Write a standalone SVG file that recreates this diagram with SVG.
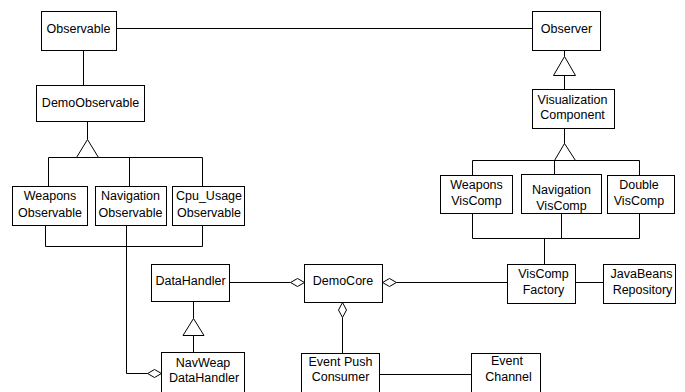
<svg xmlns="http://www.w3.org/2000/svg" width="685" height="392" viewBox="0 0 685 392">
<style>
.box{fill:#fff;stroke:#000;stroke-width:1}
.ln{fill:none;stroke:#000;stroke-width:1}
.tri{fill:#fff;stroke:#000;stroke-width:1}
.dia{fill:#fff;stroke:#000;stroke-width:1}
text{font-family:"Liberation Sans",Arial,sans-serif;font-size:12.5px;fill:#000;text-anchor:middle}
</style>
<rect width="685" height="392" fill="#fff"/>
<g id="connectors">
<path class="ln" d="M116.5 28.5H532.5"/>
<path class="ln" d="M83.5 50.5V85.5"/>
<path class="ln" d="M87.5 121.5V139.5"/>
<path class="ln" d="M48.5 186.5V157.5H202.5V186.5M129.5 157.5V186.5"/>
<polygon class="tri" points="87.5,139.5 76.5,157.5 98.5,157.5"/>
<path class="ln" d="M45.5 225.5V246.5H202.5V225.5"/>
<path class="ln" d="M126.5 225.5V373.5H147.5"/>
<polygon class="dia" points="147.5,373.5 154.5,369.5 161.5,373.5 154.5,377.5"/>
<path class="ln" d="M564.5 50.5V56.5M564.5 75.5V89.5"/>
<polygon class="tri" points="564.5,56.5 553.5,75.5 575.5,75.5"/>
<path class="ln" d="M564.5 128.5V143.5"/>
<path class="ln" d="M472.5 175.5V160.5H639.5V175.5M554.5 160.5V174.5"/>
<polygon class="tri" points="564.5,143.5 554.5,160.5 575.5,160.5"/>
<path class="ln" d="M472.5 213.5V238.5H639.5V213.5M561.5 213.5V238.5M544.5 238.5V264.5"/>
<path class="ln" d="M229.5 282.5H290.5"/>
<polygon class="dia" points="290.5,282.5 297.5,278.5 304.5,282.5 297.5,286.5"/>
<path class="ln" d="M396.5 282.5H507.5"/>
<polygon class="dia" points="382.5,282.5 389.5,278.5 396.5,282.5 389.5,286.5"/>
<path class="ln" d="M342.5 317.5V353.5"/>
<polygon class="dia" points="342.5,302.5 346.5,310 342.5,317.5 338.5,310"/>
<path class="ln" d="M193.5 301.5V318.5M193.5 335.5V352.5"/>
<polygon class="tri" points="193.5,318.5 183,335.5 204,335.5"/>
<path class="ln" d="M379.5 374.5H471.5"/>
<path class="ln" d="M575.5 282.5H603.5"/>
</g>
<g id="Observable"><rect class="box" x="41.5" y="11.5" width="75" height="39"/><text x="78.5" y="32.5">Observable</text></g>
<g id="Observer"><rect class="box" x="532.5" y="11.5" width="68" height="39"/><text x="566.5" y="32.5">Observer</text></g>
<g id="DemoObservable"><rect class="box" x="36.5" y="85.5" width="108" height="36"/><text x="90.5" y="107">DemoObservable</text></g>
<g id="VisualizationComponent"><rect class="box" x="532.5" y="89.5" width="82" height="39"/><text x="572.5" y="103.5">Visualization</text><text x="572.5" y="118.5">Component</text></g>
<g id="WeaponsObservable"><rect class="box" x="12.5" y="186.5" width="75" height="39"/><text x="50" y="200">Weapons</text><text x="50" y="216.5">Observable</text></g>
<g id="NavigationObservable"><rect class="box" x="95.5" y="186.5" width="71" height="39"/><text x="130.5" y="200">Navigation</text><text x="130.5" y="216.5">Observable</text></g>
<g id="CpuUsageObservable"><rect class="box" x="172.5" y="186.5" width="72" height="39"/><text x="209" y="200">Cpu_Usage</text><text x="209" y="216.5">Observable</text></g>
<g id="WeaponsVisComp"><rect class="box" x="440.5" y="175.5" width="72" height="38"/><text x="476.5" y="189">Weapons</text><text x="476.5" y="205">VisComp</text></g>
<g id="NavigationVisComp"><rect class="box" x="521.5" y="174.5" width="80" height="39"/><text x="561.5" y="194">Navigation</text><text x="561.5" y="209.5">VisComp</text></g>
<g id="DoubleVisComp"><rect class="box" x="607.5" y="175.5" width="67" height="38"/><text x="639" y="189">Double</text><text x="639" y="205">VisComp</text></g>
<g id="DataHandler"><rect class="box" x="151.5" y="264.5" width="78" height="37"/><text x="190.5" y="285">DataHandler</text></g>
<g id="DemoCore"><rect class="box" x="304.5" y="264.5" width="78" height="38"/><text x="343" y="285">DemoCore</text></g>
<g id="VisCompFactory"><rect class="box" x="507.5" y="264.5" width="68" height="39"/><text x="543.5" y="278">VisComp</text><text x="543.5" y="293.5">Factory</text></g>
<g id="JavaBeansRepository"><rect class="box" x="603.5" y="264.5" width="72" height="39"/><text x="641.5" y="278">JavaBeans</text><text x="642.5" y="293.5">Repository</text></g>
<g id="NavWeapDataHandler"><rect class="box" x="161.5" y="352.5" width="83" height="50"/><text x="203" y="366.5">NavWeap</text><text x="204" y="381.5">DataHandler</text></g>
<g id="EventPushConsumer"><rect class="box" x="301.5" y="353.5" width="78" height="50"/><text x="340.5" y="365.5">Event Push</text><text x="340.5" y="381">Consumer</text></g>
<g id="EventChannel"><rect class="box" x="471.5" y="353.5" width="69" height="50"/><text x="507" y="365">Event</text><text x="508.5" y="381">Channel</text></g>
</svg>
